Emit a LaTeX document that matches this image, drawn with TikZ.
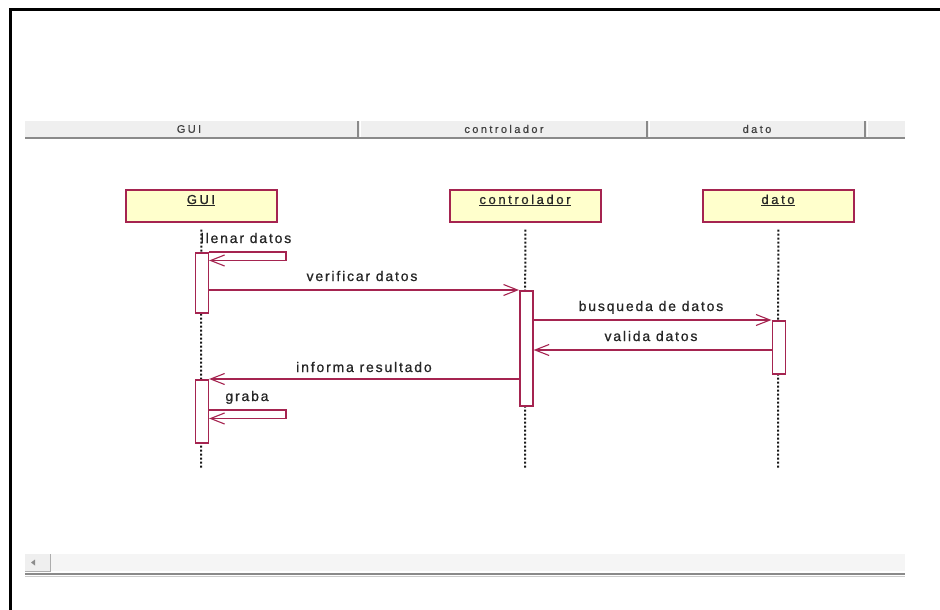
\documentclass[tikz,border=0pt]{standalone}
\usepackage{fontspec}
\setmainfont{Liberation Sans}
\newfontfamily\msgfont[LetterSpace=13,FakeBold=0.8]{Liberation Sans}
\newfontfamily\headfont[LetterSpace=22,FakeBold=0.6]{Liberation Sans}
\newfontfamily\objfont[LetterSpace=20,FakeBold=0.8]{Liberation Sans}
\usetikzlibrary{arrows.meta}
\definecolor{umlred}{HTML}{A52450}
\definecolor{umlfill}{HTML}{FFFFCC}
\definecolor{barfill}{HTML}{EFEFEF}
\definecolor{bardark}{HTML}{8A8A8A}
\begin{document}
\begin{tikzpicture}[x=1pt,y=-1pt,
  objbox/.style={draw=umlred,fill=umlfill,line width=1.6pt,minimum width=151pt,minimum height=32pt,inner sep=0pt,anchor=north west},
  actbox/.style={draw=umlred,fill=white,line width=1.6pt,minimum width=13pt,inner sep=0pt,anchor=north west},
  lifeline/.style={line width=2pt,dash pattern=on 2pt off 2pt,black!90},
  msg/.style={draw=umlred,line width=1.1pt,-{Straight Barb[length=14pt,width=11pt,line width=1.1pt]}},
  msglabel/.style={font=\fontsize{14}{16}\selectfont\msgfont,text=black!85,inner sep=0pt},
  headlabel/.style={font=\fontsize{11}{13}\selectfont\headfont,text=black!75,inner sep=0pt},
  objlabel/.style={font=\fontsize{13}{15}\selectfont\objfont,text=black!85,inner sep=0pt}]
\useasboundingbox (0,0) rectangle (940,610);

% window frame (top and left edges)
\draw[line width=3pt,line cap=rect] (10,611) -- (10,10) -- (941,10);

% column header bar
\fill[barfill] (25,121) rectangle (905,137);
\draw[bardark,line width=2pt] (25,138) -- (905,138);
\foreach \sx in {358,647,865}{
  \draw[bardark,line width=1.6pt] (\sx,121) -- (\sx,137);
  \draw[white,line width=1pt] (\sx+2,121) -- (\sx+2,137);
}
\node[headlabel] (hgui) at (189,129) {GUI};
\node[headlabel] (hctl) at (504,129) {controlador};
\node[headlabel] (hdat) at (757,129) {dato};

% object heads
\node[objbox] (gui) at (125,189) {};
\node[objbox] (ctl) at (449,189) {};
\node[objbox] (dat) at (702,189) {};
\node[objlabel,anchor=base] (lgui) at (201,204) {\underline{GUI}};
\node[objlabel,anchor=base] (lctl) at (525,204) {\underline{controlador}};
\node[objlabel,anchor=base] (ldat) at (778,204) {\underline{dato}};

% lifelines
\coordinate (gend) at (201,468);
\coordinate (cend) at (525,468);
\coordinate (dend) at (778,468);
\draw[lifeline] (gui.south) ++(0,7) -- (gend);
\draw[lifeline] (ctl.south) ++(0,7) -- (cend);
\draw[lifeline] (dat.south) ++(0,7) -- (dend);

% activations
\node[actbox,minimum height=60pt] (ga) at (194.5,252) {};
\node[actbox,minimum height=115pt] (ca) at (519,290) {};
\node[actbox,minimum height=53pt] (da) at (771.5,320) {};
\node[actbox,minimum height=63pt] (gb) at (194.5,379) {};

% llenar datos (self call)
\coordinate (s1) at (286,252);
\draw[msg] (ga.north east) -- (s1) -- (s1 |- 0,260.5) -- (ga.east |- 0,260.5);
\node[msglabel,anchor=base] (m1) at (246,243) {llenar datos};

% verificar datos
\draw[msg] (ga.east |- 0,290) -- (ca.north west);
\node[msglabel,anchor=base] (m2) at (362,281) {verificar datos};

% busqueda de datos
\draw[msg] (ca.east |- 0,320) -- (da.north west);
\node[msglabel,anchor=base] (m3) at (651,311) {busqueda de datos};

% valida datos
\draw[msg] (da.west |- 0,350) -- (ca.east |- 0,350);
\node[msglabel,anchor=base] (m4) at (651,341) {valida datos};

% informa resultado
\draw[msg] (ca.west |- 0,379) -- (gb.north east);
\node[msglabel,anchor=base] (m5) at (364,372) {informa resultado};

% graba (self call)
\coordinate (s2) at (286,410);
\draw[msg] (gb.east |- 0,410) -- (s2) -- (s2 |- 0,418.5) -- (gb.east |- 0,418.5);
\node[msglabel,anchor=base] (m6) at (247,401) {graba};

% horizontal scroll bar
\fill[barfill!60] (25,554) rectangle (905,571);
\fill[barfill] (25,554) rectangle (50,571);
\draw[bardark!70,line width=1pt] (50,554) -- (50,571) -- (25,571);
\fill[black!45] (31,562.5) -- (35,559.5) -- (35,565.5) -- cycle;
\draw[bardark,line width=2pt] (25,574) -- (905,574);
\draw[black!20,line width=1pt] (25,576.5) -- (905,576.5);
\end{tikzpicture}
\end{document}
